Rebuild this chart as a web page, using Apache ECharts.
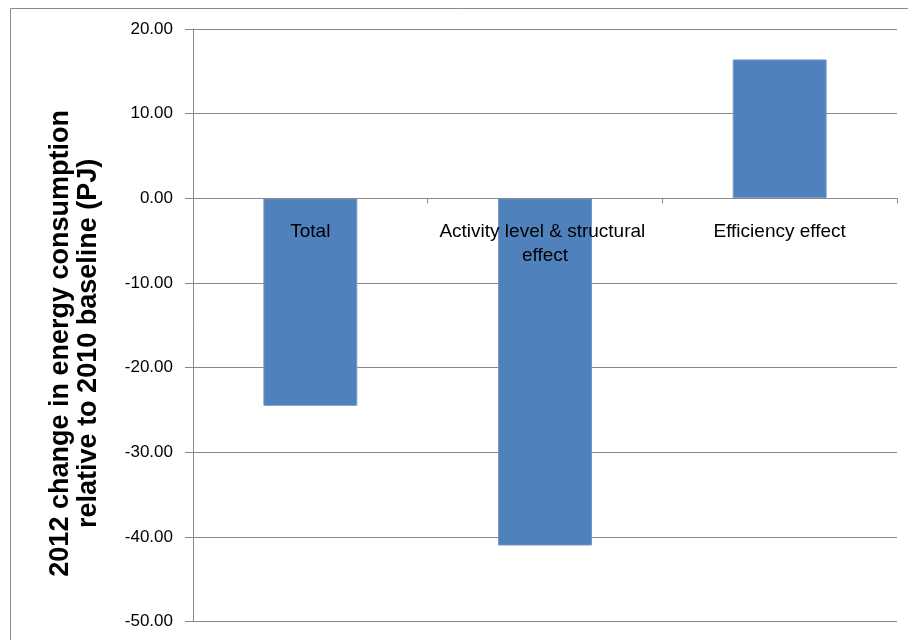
<!DOCTYPE html>
<html>
<head>
<meta charset="utf-8">
<script src="https://cdn.jsdelivr.net/npm/echarts@6/dist/echarts.min.js"></script>
<style>
html,body{margin:0;padding:0;background:#fff;}
#chart{width:908px;height:640px;}
</style>
</head>
<body>
<div id="chart"></div>
<script>
var categories = ['Total', 'Activity level & structural effect', 'Efficiency effect'];
var values = [-24.5, -41.0, 16.4];
var yTicks = { min: -50, max: 20, interval: 10 };
var yTitle = '2012 change in energy consumption\nrelative to 2010 baseline (PJ)';

var gridTop = 29, gridBottom = 18.3, chartH = 640;
var plotH = chartH - gridTop - gridBottom;
// distance from bottom of plot to the zero line, used to place the category axis on zero
var zeroOffset = plotH * (0 - yTicks.min) / (yTicks.max - yTicks.min);

var chart = echarts.init(document.getElementById('chart'), null, {renderer: 'canvas'});
var gridColor = '#8a8a8a';
chart.setOption({
  animation: false,
  backgroundColor: '#ffffff',
  graphic: [{
    type: 'rect', silent: true, z: 0,
    shape: {x: 10.5, y: 8.5, width: 1000, height: 1000},
    style: {fill: 'none', stroke: '#8a8a8a', lineWidth: 1}
  }],
  grid: {left: 193, right: 11, top: gridTop, bottom: gridBottom, containLabel: false, outerBoundsMode: 'none'},
  xAxis: {
    type: 'category',
    data: categories,
    z: 5,
    position: 'bottom',
    offset: -zeroOffset,
    axisLine: {onZero: false, lineStyle: {color: gridColor, width: 1}},
    axisTick: {show: true, length: 5, inside: false, lineStyle: {color: gridColor}},
    axisLabel: {
      margin: 21, color: '#000', fontFamily: 'Liberation Sans', fontSize: 19,
      lineHeight: 24.5, width: 222, overflow: 'break', interval: 0
    },
    splitLine: {show: false}
  },
  yAxis: {
    type: 'value',
    min: yTicks.min, max: yTicks.max, interval: yTicks.interval,
    name: yTitle,
    nameLocation: 'middle',
    nameRotate: 90,
    nameGap: 90,
    nameTextStyle: {
      fontFamily: 'Liberation Sans', fontWeight: 'bold', fontSize: 27,
      color: '#000', lineHeight: 28, padding: [0, 36, 0, 0]
    },
    axisLine: {show: true, lineStyle: {color: gridColor, width: 1}},
    axisTick: {show: true, length: 8, lineStyle: {color: gridColor}},
    axisLabel: {
      margin: 20, color: '#000', fontFamily: 'Liberation Sans', fontSize: 17,
      formatter: function (v) { return v.toFixed(2); }
    },
    splitLine: {show: true, lineStyle: {color: gridColor, width: 1}}
  },
  series: [{
    type: 'bar',
    data: values,
    barWidth: '40%',
    itemStyle: {color: '#4F81BD', borderColor: '#6F96C8', borderWidth: 1}
  }]
});
</script>
</body>
</html>
